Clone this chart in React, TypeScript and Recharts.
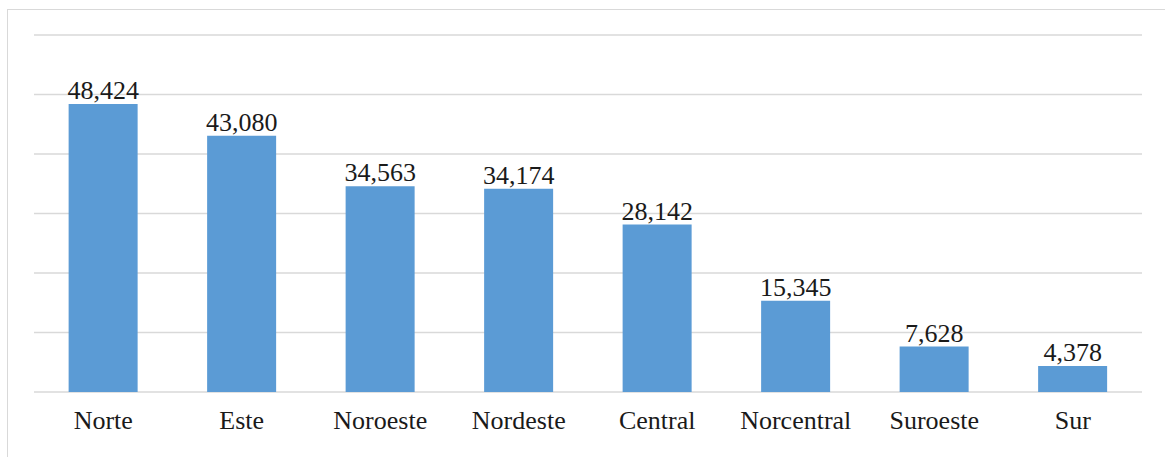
import React from 'react';
import { BarChart, Bar, XAxis, YAxis, CartesianGrid, LabelList } from 'recharts';

const categories = ['Norte', 'Este', 'Noroeste', 'Nordeste', 'Central', 'Norcentral', 'Suroeste', 'Sur'];
const values = [48424, 43080, 34563, 34174, 28142, 15345, 7628, 4378];
const yTicks = [0, 10000, 20000, 30000, 40000, 50000, 60000];

const data = categories.map((name, i) => ({ name, value: values[i] }));

const font = "'Liberation Serif', 'Times New Roman', serif";

export default function App() {
  return (
    <div style={{ position: 'absolute', left: 0, top: 0, width: 1165, height: 457, background: '#fff', overflow: 'hidden' }}>
      <div style={{ position: 'absolute', left: 7, top: 9, width: 1200, height: 500, border: '1px solid #d9d9d9', boxSizing: 'border-box' }} />
      <div style={{ position: 'absolute', left: 0, top: 0, fontFamily: font }}>
        <BarChart
          width={1165}
          height={457}
          data={data}
          margin={{ top: 35, right: 23, left: 34, bottom: 0 }}
          barCategoryGap="25%"
        >
          <CartesianGrid vertical={false} stroke="#d9d9d9" strokeWidth={1.5} />
          <YAxis hide domain={[0, 60000]} ticks={yTicks} />
          <XAxis
            dataKey="name"
            height={65}
            axisLine={false}
            tickLine={false}
            tickSize={0}
            tickMargin={19}
            tick={{ fill: '#1a1a1a', fontSize: 26, fontFamily: font }}
            interval={0}
          />
          <Bar dataKey="value" fill="#5b9bd5" isAnimationActive={false}>
            <LabelList
              dataKey="value"
              position="top"
              offset={5}
              fill="#1a1a1a"
              fontSize={26}
              fontFamily={font}
              formatter={(v: number) => v.toLocaleString('en-US')}
            />
          </Bar>
        </BarChart>
      </div>
    </div>
  );
}
